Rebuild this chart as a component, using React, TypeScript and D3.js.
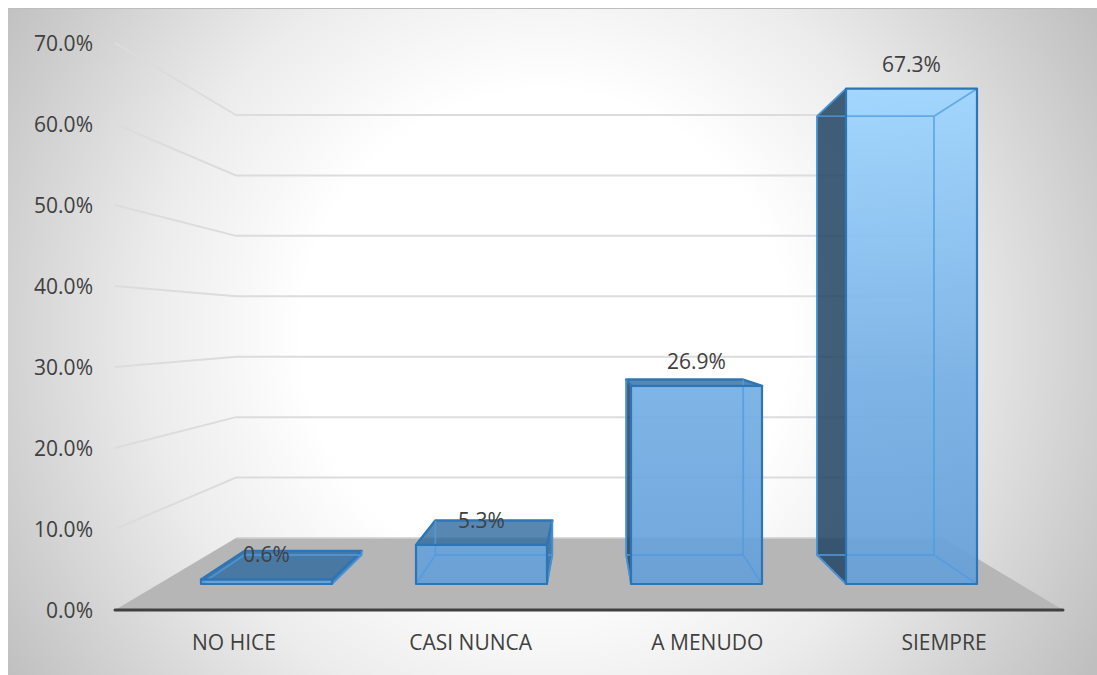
import React from "react";
import * as d3 from "d3";

const categories = ["NO HICE", "CASI NUNCA", "A MENUDO", "SIEMPRE"];
const seriesValues = [0.6, 5.3, 26.9, 67.3];
const valueLabels = ["0.6%", "5.3%", "26.9%", "67.3%"];
const axisTicks = [0, 10, 20, 30, 40, 50, 60, 70];
const FONT = "'Open Sans', 'Noto Sans', sans-serif";

const W = 1097;
const H = 675;

// wall / floor projection: front plane and back plane of the 3D box
const yFront = d3.scaleLinear().domain([0, 70]).range([610, 43]);
const yBack = d3.scaleLinear().domain([0, 70]).range([538, 115]);
// bars stand slightly inside the floor
const barFrontY = d3.scaleLinear().domain([0, 70]).range([584, 68.8]);
const barBackY = d3.scaleLinear().domain([0, 70]).range([555, 98.6]);
const idx = categories.map((_, i) => i);
const frontLeft = d3.scaleLinear().domain([0, 3]).range([201, 846]);
const backLeft = d3.scaleLinear().domain([0, 3]).range([244.5, 817]);
const catX = d3.scaleLinear().domain([0, 3]).range([234, 944]);
const frontW = 131;
const backW = 117;

const wallL = 115;
const wallBackL = 236;
const wallBackR = 943;
const floorR = 1063;

const poly = (pts: [number, number][]) => d3.line()(pts) + "Z";

export default function App() {
  const gridLines = axisTicks.filter((t) => t > 0);
  return (
    <svg
      width={W}
      height={H}
      viewBox={`0 0 ${W} ${H}`}
      style={{ position: "absolute", left: 0, top: 0, display: "block" }}
    >
      <defs>
        <radialGradient id="bg" gradientUnits="userSpaceOnUse" cx={545} cy={335} r={640}>
          <stop offset="0" stopColor="#ffffff" />
          <stop offset="0.38" stopColor="#ffffff" />
          <stop offset="0.62" stopColor="#ececec" />
          <stop offset="1" stopColor="#bfbfbf" />
        </radialGradient>
        <linearGradient id="barFill" gradientUnits="userSpaceOnUse" x1={0} y1={89} x2={0} y2={584}>
          <stop offset="0" stopColor="#9dd5ff" />
          <stop offset="0.6" stopColor="#74aee4" />
          <stop offset="1" stopColor="#659fd8" />
        </linearGradient>
      </defs>

      <rect x={8} y={8} width={W - 8} height={H - 8} fill="url(#bg)" />
      <line x1={8} x2={W} y1={8.5} y2={8.5} stroke="#bdbdbd" strokeWidth={1} />

      {/* floor */}
      <path
        d={poly([
          [wallL, yFront(0)],
          [wallBackL, yBack(0)],
          [wallBackR, yBack(0)],
          [floorR, yFront(0)],
        ])}
        fill="#b6b6b6"
      />
      <line x1={wallBackL} x2={wallBackR} y1={yBack(0)} y2={yBack(0)} stroke="#cfcfcf" strokeWidth={1.5} />

      {/* gridlines on the side and back walls */}
      {gridLines.map((t) => (
        <path
          key={t}
          d={d3.line()([
            [wallL, yFront(t)],
            [wallBackL, yBack(t)],
            [wallBackR, yBack(t)],
          ]) as string}
          fill="none"
          stroke="#dcdcdc"
          strokeWidth={2}
        />
      ))}

      {/* bars */}
      {idx.map((i) => {
        const v = seriesValues[i];
        const fl = frontLeft(i);
        const fr = fl + frontW;
        const bl = backLeft(i);
        const br = bl + backW;
        const ft = barFrontY(v);
        const fb = barFrontY(0);
        const bt = barBackY(v);
        const bb = barBackY(0);
        const showTop = bt < ft;
        const showLeft = bl < fl;
        const showRight = br > fr;
        const inner = "#4f9be2";
        const edge = "#2e75b6";
        return (
          <g key={categories[i]} strokeLinejoin="round">
            {showLeft && (
              <path
                d={poly([[bl, bt], [fl, ft], [fl, fb], [bl, bb]])}
                fill="#234563"
                fillOpacity={0.86}
                stroke={edge}
                strokeWidth={1.5}
              />
            )}
            {showRight && (
              <path
                d={poly([[br, bt], [fr, ft], [fr, fb], [br, bb]])}
                fill="#2e6a9e"
                fillOpacity={0.8}
                stroke={edge}
                strokeWidth={1.5}
              />
            )}
            {showTop && (
              <path
                d={poly([[bl, bt], [br, bt], [fr, ft], [fl, ft]])}
                fill="#2e6a9e"
                fillOpacity={0.8}
                stroke={edge}
                strokeWidth={2.5}
              />
            )}
            {/* front face */}
            <rect x={fl} y={ft} width={frontW} height={fb - ft} fill="url(#barFill)" fillOpacity={0.92} />
            {/* receding inner edges seen through the glass */}
            <path
              d={
                `M${bl},${bt}L${bl},${bb}L${br},${bb}L${br},${bt}` +
                `M${bl},${bb}L${fl},${fb}M${br},${bb}L${fr},${fb}` +
                (showTop ? "" : `M${bl},${bt}L${br},${bt}M${bl},${bt}L${fl},${ft}M${br},${bt}L${fr},${ft}`)
              }
              fill="none"
              stroke={inner}
              strokeOpacity={0.75}
              strokeWidth={1.8}
            />
            <rect x={fl} y={ft} width={frontW} height={fb - ft} fill="none" stroke={edge} strokeWidth={2.2} />
          </g>
        );
      })}

      {/* category axis line */}
      <line
        x1={wallL}
        x2={floorR}
        y1={yFront(0)}
        y2={yFront(0)}
        stroke="#404040"
        strokeWidth={3}
        strokeLinecap="round"
      />

      {/* value axis labels */}
      {axisTicks.map((t) => (
        <text
          key={t}
          x={93}
          y={yFront(t) + 0.5}
          dy="0.36em"
          textAnchor="end"
          fontFamily={FONT}
          fontSize={21}
          fill="#404040"
        >
          {d3.format(".1f")(t)}%
        </text>
      ))}

      {/* category labels */}
      {idx.map((i) => (
        <text
          key={categories[i]}
          x={catX(i)}
          y={642.5}
          dy="0.35em"
          textAnchor="middle"
          fontFamily={FONT}
          fontSize={21}
          fill="#404040"
        >
          {categories[i]}
        </text>
      ))}

      {/* data labels */}
      {idx.map((i) => (
        <text
          key={valueLabels[i]}
          x={frontLeft(i) + frontW / 2}
          y={barFrontY(seriesValues[i]) - 24.5}
          dy="0.35em"
          textAnchor="middle"
          fontFamily={FONT}
          fontSize={21}
          fill="#404040"
        >
          {valueLabels[i]}
        </text>
      ))}
    </svg>
  );
}
